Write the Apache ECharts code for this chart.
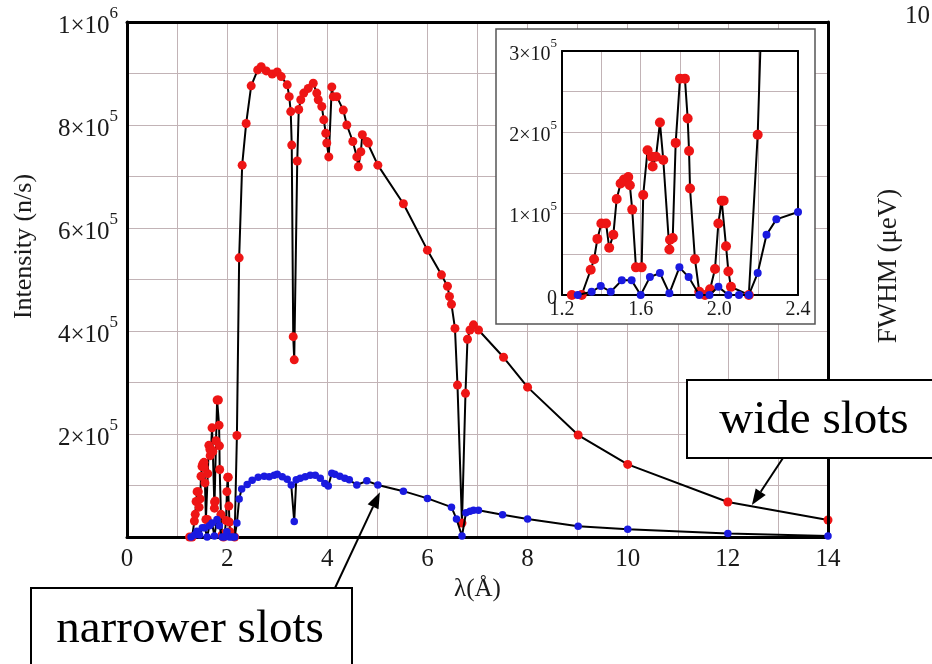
<!DOCTYPE html>
<html>
<head>
<meta charset="utf-8">
<script src="https://cdn.jsdelivr.net/npm/echarts@6/dist/echarts.min.js"></script>
<style>html,body{margin:0;padding:0;background:#fff}#c{width:932px;height:664px}</style>
</head>
<body>
<div id="c"></div>
<script>
// ---- data ----
const lambdaWide = [1.25,1.30,1.346,1.363,1.38,1.40,1.424,1.44,1.461,1.478,1.498,1.515,1.537,1.545,1.557,1.576,1.605,1.613,1.635,1.656,1.661,1.678,1.698,1.715,1.746,1.749,1.763,1.778,1.80,1.825,1.839,1.846,1.851,1.876,1.898,1.927,1.953,1.978,1.995,2.012,2.022,2.034,2.046,2.059,2.15,2.195,
  2.24,2.30,2.38,2.48,2.61,2.68,2.78,2.90,3.00,3.08,3.20,3.24,3.27,3.29,3.32,3.34,3.40,3.43,3.47,3.53,3.62,3.72,3.79,3.82,3.89,3.93,3.97,3.99,4.03,4.09,4.12,4.19,4.32,4.39,4.51,4.59,4.62,4.67,4.70,4.79,4.82,5.01,5.52,6.00,6.28,6.40,6.44,6.48,6.55,6.60,6.69,6.76,6.80,6.85,6.92,7.02,7.52,8.00,9.01,10.0,12.0,14.0];
const intensityWide = [0,0,31e3,44e3,69e3,88e3,88e3,58e3,74e3,118e3,137e3,142e3,145e3,135e3,105e3,34e3,34e3,123e3,178e3,170e3,158e3,170e3,212e3,166e3,56e3,68e3,70e3,187e3,266e3,266e3,217e3,177e3,131e3,44e3,4e3,0,7e3,32e3,88e3,116e3,116e3,60e3,29e3,10e3,0,197e3,
  542e3,722e3,803e3,876e3,907e3,913e3,905e3,899e3,903e3,894e3,878e3,855e3,826e3,761e3,389e3,344e3,730e3,830e3,849e3,862e3,871e3,881e3,862e3,849e3,836e3,810e3,784e3,765e3,738e3,874e3,855e3,855e3,829e3,800e3,768e3,738e3,719e3,748e3,781e3,768e3,765e3,722e3,647e3,557e3,509e3,487e3,467e3,452e3,405e3,295e3,27e3,279e3,384e3,402e3,412e3,402e3,349e3,291e3,198e3,141e3,68e3,33e3];
const lambdaNarrow = [1.28,1.351,1.397,1.448,1.504,1.554,1.60,1.647,1.698,1.746,1.797,1.844,1.898,1.95,1.995,2.046,2.10,2.15,2.195,2.24,2.29,2.40,
  2.50,2.62,2.74,2.84,2.94,3.00,3.10,3.20,3.28,3.34,3.38,3.46,3.56,3.66,3.76,3.86,3.95,4.02,4.09,4.15,4.25,4.35,4.44,4.59,4.79,5.01,5.52,6.00,6.48,6.58,6.69,6.77,6.85,6.92,7.02,7.50,8.00,9.01,10.0,12.0,14.0];
const intensityNarrow = [0,4e3,11e3,4e3,18e3,18e3,0,22e3,27e3,2e3,34e3,22e3,0,0,10e3,0,0,0,27e3,74e3,93e3,102e3,
  110e3,116e3,118e3,117e3,120e3,122e3,117e3,112e3,101e3,30e3,111e3,114e3,117e3,120e3,120e3,114e3,104e3,99e3,124e3,122e3,118e3,114e3,111e3,101e3,109e3,101e3,89e3,75e3,58e3,35e3,2e3,47e3,50e3,52e3,52e3,43e3,35e3,21e3,15e3,7e3,2e3];
const mainXTicks = [0,2,4,6,8,10,12,14];
const insetXTicks = ['1.2','1.6','2.0','2.4'];
const mainYLabels = {2:'2×10|5',4:'4×10|5',6:'6×10|5',8:'8×10|5',10:'1×10|6'};
const insetYLabels = {0:'0',2:'1×10|5',4:'2×10|5',6:'3×10|5'};

const wide = lambdaWide.map((x,i)=>[x,intensityWide[i]]);
const narrow = lambdaNarrow.map((x,i)=>[x,intensityNarrow[i]]);

const FONT = '"Liberation Serif","DejaVu Serif",serif';
const GRID = '#c2b3b6';
const TXT = '#1a1a1a';
const RED = '#ee1515';
const BLUE = '#1a1ae0';

function supFmt(s){
  if(!s) return '';
  const p = s.split('|');
  return p.length>1 ? '{b|'+p[0]+'}{s|'+p[1]+'}' : '{b|'+p[0]+'}';
}
const rich = (fs)=>({b:{fontFamily:FONT,fontSize:fs,color:TXT,padding:[Math.round(fs*0.35),0,0,0]},s:{fontFamily:FONT,fontSize:Math.round(fs*0.66),color:TXT,verticalAlign:'top'}});
const border = (w)=>({show:true,onZero:false,lineStyle:{color:'#000',width:w}});

const chart = echarts.init(document.getElementById('c'),null,{renderer:'canvas'});
const option = {
  animation:false,
  backgroundColor:'#fff',
  grid:[
    {left:127,top:22,width:701,height:515,show:false},
    {left:562,top:51,width:236,height:244,show:true,backgroundColor:'#fff',borderWidth:0,zlevel:1,z:1}
  ],
  xAxis:[
    {gridIndex:0,type:'value',min:0,max:14,interval:1,z:1,
     axisLine:border(3),axisTick:{show:false},
     axisLabel:{fontFamily:FONT,fontSize:25,color:TXT,margin:10,
       formatter:v=>mainXTicks.indexOf(Math.round(v))>=0?String(Math.round(v)):''},
     splitLine:{show:true,showMinLine:false,showMaxLine:false,lineStyle:{color:GRID,width:1}},
     name:'λ(Å)',nameLocation:'middle',nameGap:33,nameTextStyle:{fontFamily:FONT,fontSize:25,color:TXT}},
    {gridIndex:0,type:'value',position:'top',min:0,max:14,z:3,
     axisLine:border(3),axisTick:{show:false},axisLabel:{show:false},splitLine:{show:false}},
    {gridIndex:1,type:'value',min:1.2,max:2.4,interval:0.2,zlevel:1,z:2,
     axisLine:border(2),axisTick:{show:false},
     axisLabel:{fontFamily:FONT,fontSize:20,color:TXT,margin:5,
       formatter:v=>{const t=v.toFixed(1);return insetXTicks.indexOf(t)>=0?t:'';}},
     splitLine:{show:true,showMinLine:false,showMaxLine:false,lineStyle:{color:GRID,width:1}}},
    {gridIndex:1,type:'value',position:'top',min:1.2,max:2.4,zlevel:1,z:3,
     axisLine:border(2),axisTick:{show:false},axisLabel:{show:false},splitLine:{show:false}}
  ],
  yAxis:[
    {gridIndex:0,type:'value',min:0,max:1e6,interval:1e5,z:1,
     axisLine:border(3),axisTick:{show:false},
     axisLabel:{margin:9,rich:rich(25),formatter:v=>supFmt(mainYLabels[Math.round(v/1e5)])},
     splitLine:{show:true,showMinLine:false,showMaxLine:false,lineStyle:{color:GRID,width:1}},
     name:'Intensity (n/s)',nameLocation:'middle',nameGap:90,
     nameTextStyle:{fontFamily:FONT,fontSize:26,color:TXT,padding:[0,0,0,66]}},
    {gridIndex:0,type:'value',position:'right',min:0,max:1e6,z:3,
     axisLine:border(3),axisTick:{show:false},axisLabel:{show:false},splitLine:{show:false}},
    {gridIndex:1,type:'value',min:0,max:3e5,interval:5e4,zlevel:1,z:2,
     axisLine:border(2),axisTick:{show:false},
     axisLabel:{margin:5,rich:rich(20),formatter:v=>supFmt(insetYLabels[Math.round(v/5e4)])},
     splitLine:{show:true,showMinLine:false,showMaxLine:false,lineStyle:{color:GRID,width:1}}},
    {gridIndex:1,type:'value',position:'right',min:0,max:3e5,zlevel:1,z:3,
     axisLine:border(2),axisTick:{show:false},axisLabel:{show:false},splitLine:{show:false}}
  ],
  series:[
    {name:'wide slots',type:'line',xAxisIndex:0,yAxisIndex:0,data:wide,symbol:'circle',symbolSize:9,
     lineStyle:{color:'#000',width:2},itemStyle:{color:RED},z:2},
    {name:'narrower slots',type:'line',xAxisIndex:0,yAxisIndex:0,data:narrow,symbol:'circle',symbolSize:7.5,
     lineStyle:{color:'#000',width:2},itemStyle:{color:BLUE},z:3},
    {name:'wide slots (inset)',type:'line',xAxisIndex:2,yAxisIndex:2,data:wide,symbol:'circle',symbolSize:10,clip:true,
     lineStyle:{color:'#000',width:2},itemStyle:{color:RED},zlevel:1,z:4},
    {name:'narrower slots (inset)',type:'line',xAxisIndex:2,yAxisIndex:2,data:narrow,symbol:'circle',symbolSize:8,clip:true,
     lineStyle:{color:'#000',width:2},itemStyle:{color:BLUE},zlevel:1,z:5}
  ]
};
chart.setOption(option);

function arrow(from,tip,len,half){
  const dx=tip[0]-from[0], dy=tip[1]-from[1], L=Math.hypot(dx,dy), ux=dx/L, uy=dy/L;
  const bx=tip[0]-ux*len, by=tip[1]-uy*len;
  return [
    {type:'line',zlevel:2,z:10,shape:{x1:from[0],y1:from[1],x2:bx,y2:by},style:{stroke:'#000',lineWidth:2}},
    {type:'polygon',zlevel:2,z:10,shape:{points:[tip,[bx-uy*half,by+ux*half],[bx+uy*half,by-ux*half]]},style:{fill:'#000'}}
  ];
}
const tipNarrow = chart.convertToPixel({gridIndex:0},[5.05,87e3]);
const tipWide = chart.convertToPixel({gridIndex:0},[12.48,62e3]);
const els = [
  {type:'rect',zlevel:1,z:0,shape:{x:496,y:29,width:319,height:295},style:{fill:'#fff',stroke:'#555',lineWidth:1.5}},
  {type:'rect',zlevel:2,z:5,shape:{x:687,y:380,width:260,height:78},style:{fill:'#fff',stroke:'#000',lineWidth:2}},
  {type:'text',zlevel:2,z:6,x:814,y:421,style:{text:'wide slots',font:'47px '+FONT,fill:'#000',textAlign:'center',textVerticalAlign:'middle'}},
  {type:'rect',zlevel:2,z:5,shape:{x:31,y:588,width:321,height:110},style:{fill:'#fff',stroke:'#000',lineWidth:2}},
  {type:'text',zlevel:2,z:6,x:190,y:630,style:{text:'narrower slots',font:'47px '+FONT,fill:'#000',textAlign:'center',textVerticalAlign:'middle'}},
  {type:'text',zlevel:2,z:6,x:905,y:16,style:{text:'10',font:'25px '+FONT,fill:TXT,textAlign:'left',textVerticalAlign:'middle'}},
  {type:'text',zlevel:2,z:6,x:889,y:266,rotation:Math.PI/2,style:{text:'FWHM (μeV)',font:'27px '+FONT,fill:TXT,textAlign:'center',textVerticalAlign:'middle'}}
].concat(arrow([335,588],tipNarrow,16,6)).concat(arrow([783,458],tipWide,16,6));
chart.setOption({graphic:{elements:els}});
</script>
</body>
</html>
